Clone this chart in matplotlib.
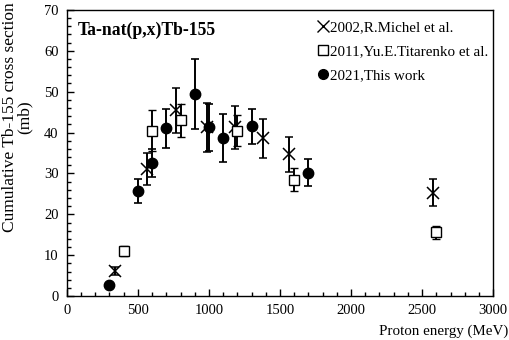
import matplotlib
matplotlib.use("Agg")
import matplotlib.pyplot as plt
from matplotlib.lines import Line2D
from matplotlib.ticker import MultipleLocator

plt.rcParams['font.family'] = ['Liberation Serif', 'DejaVu Serif']

# -------------------------
# DATA
# -------------------------
# 2002, R.Michel et al.
michel_e = [338, 563, 767, 986, 1183, 1380, 1563, 2580]
michel_y = [6.2, 31.0, 45.5, 41.3, 41.3, 38.6, 34.7, 25.3]
michel_err = [1.0, 3.9, 5.5, 6.0, 5.2, 4.8, 4.3, 3.3]

# 2011, Yu.E.Titarenko et al.
tit_e = [400, 600, 800, 1200, 1600, 2600]
tit_y = [11.0, 40.5, 43.0, 40.5, 28.5, 15.6]
tit_err = [1.2, 5.0, 4.0, 3.7, 2.8, 1.6]

# 2021, This work
this_e = [300, 500, 600, 700, 900, 1000, 1100, 1300, 1700]
this_y = [2.8, 25.7, 32.6, 41.0, 49.4, 41.3, 38.6, 41.5, 30.2]
this_err = [0.5, 3.0, 3.5, 4.7, 8.6, 5.8, 5.9, 4.2, 3.3]

# -------------------------
# FIGURE
# -------------------------
fig = plt.figure(figsize=(5.1, 3.4), dpi=100)
ax = fig.add_axes([0.131, 0.129, 0.836, 0.842])

err_kw = dict(ecolor='black', elinewidth=1.4, capsize=3, capthick=1.2, linestyle='none')

ax.errorbar(michel_e, michel_y, yerr=michel_err, marker='x', ms=9, mew=1.1,
            color='black', **err_kw)
ax.errorbar(tit_e, tit_y, yerr=tit_err, marker='s', ms=7.5, mew=1.0,
            mfc='white', mec='black', **err_kw)
ax.errorbar(this_e, this_y, yerr=this_err, marker='o', ms=7.5,
            mfc='black', mec='black', **err_kw)

ax.set_xlim(0, 3000)
ax.set_ylim(0, 70)
ax.xaxis.set_major_locator(MultipleLocator(500))
ax.xaxis.set_minor_locator(MultipleLocator(100))
ax.yaxis.set_major_locator(MultipleLocator(10))
ax.yaxis.set_minor_locator(MultipleLocator(2))
ax.tick_params(which='both', direction='in', top=False, right=False,
               labelsize=10.5, width=1.0)
ax.tick_params(which='major', length=5, pad=6)
ax.tick_params(which='minor', length=3)
for s in ax.spines.values():
    s.set_linewidth(1.0)

ax.text(0.025, 0.93, 'Ta-nat(p,x)Tb-155', transform=ax.transAxes,
        fontsize=12.7, fontweight='bold', va='center', ha='left')

handles = [
    Line2D([], [], marker='x', ms=8, mew=1.0, color='black', linestyle='none'),
    Line2D([], [], marker='s', ms=7, mfc='white', mec='black', linestyle='none'),
    Line2D([], [], marker='o', ms=7, mfc='black', mec='black', linestyle='none'),
]
labels = ['2002,R.Michel et al.', '2011,Yu.E.Titarenko et al.', '2021,This work']
ax.legend(handles, labels, loc='upper left', bbox_to_anchor=(0.565, 1.0),
          frameon=False, fontsize=10.8, handlelength=0.6, handletextpad=0.15,
          labelspacing=0.7, borderaxespad=0.35)

fig.text(0.034, 0.655, 'Cumulative Tb-155 cross section\n(mb)', rotation=90,
         ha='center', va='center', fontsize=12.5, linespacing=0.95)
fig.text(0.996, 0.025, 'Proton energy (MeV)', ha='right', va='center', fontsize=10.8)

fig.savefig('out.png', dpi=100)
